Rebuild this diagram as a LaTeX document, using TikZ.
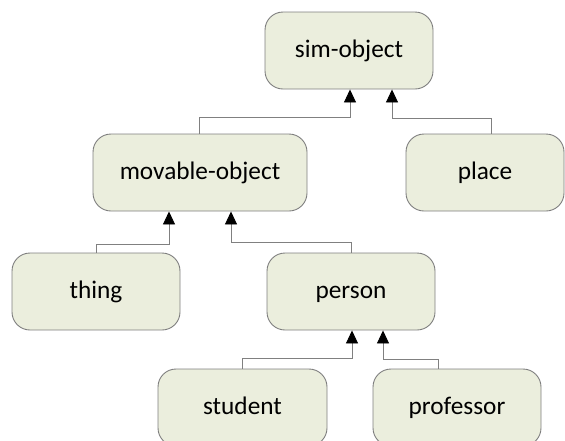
\documentclass[tikz,border=0pt]{standalone}
\usepackage{fontspec}
\setmainfont{Carlito}
\usetikzlibrary{arrows.meta,positioning,calc}
\definecolor{boxFill}{HTML}{EBEEDD}
\definecolor{boxLine}{HTML}{7F7F7F}
\definecolor{linkGrey}{HTML}{808080}
\tikzset{
        % Class boxes
        class_box/.style={rectangle, rounded corners=18pt, draw=boxLine, line width=0.9pt, fill=boxFill,
            minimum height=77pt, inner sep=0pt, text height=19pt, text depth=5pt,
            font=\fontsize{25.3}{30}\selectfont},
        % Inheritance links
        link/.style={draw=linkGrey, line width=0.9pt,
            -{Triangle[width=12pt,length=13pt,color=black,fill=black]}}
}
\begin{document}
\begin{tikzpicture}[x=1pt, y=-1pt]
    \useasboundingbox (0,0) rectangle (565,440);
    % Classes
    \node[class_box, minimum width=168pt] (sim) at (349,50.5) {sim-object};
    \node[class_box, minimum width=214pt] (movable) at (200,172.5) {movable-object};
    \node[class_box, minimum width=158pt] (place) at (485,172.5) {place};
    \node[class_box, minimum width=168pt] (thing) at (96,291.5) {thing};
    \node[class_box, minimum width=168pt] (person) at (351,291.5) {person};
    \node[class_box, minimum width=169pt] (student) at (242.5,407.5) {student};
    \node[class_box, minimum width=168pt] (professor) at (457,407.5) {professor};
    % Bends
    \coordinate (b_movable) at (350,117);
    \coordinate (b_place) at (392,118);
    \coordinate (b_thing) at (169,244);
    \coordinate (b_person) at (231,242);
    \coordinate (b_student) at (352,358);
    \coordinate (b_professor) at (383,359);
    % Links
    \draw[link] ([xshift=-1pt]movable.north) |- (b_movable) -- (b_movable |- sim.south);
    \draw[link] ([xshift=6pt]place.north) |- (b_place) -- (b_place |- sim.south);
    \draw[link] (thing.north) |- (b_thing) -- (b_thing |- movable.south);
    \draw[link] (person.north) |- (b_person) -- (b_person |- movable.south);
    \draw[link] (student.north) |- (b_student) -- (b_student |- person.south);
    \draw[link] ([xshift=-19pt]professor.north) |- (b_professor) -- (b_professor |- person.south);
\end{tikzpicture}
\end{document}
